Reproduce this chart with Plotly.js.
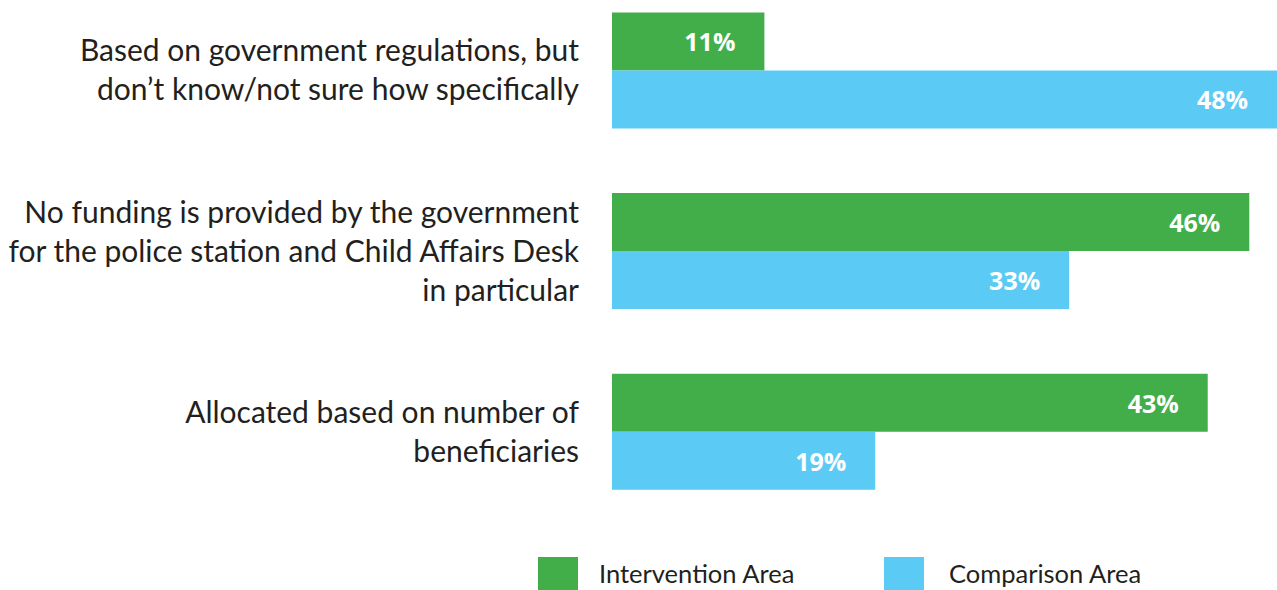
<!DOCTYPE html>
<html>
<head>
<meta charset="utf-8">
<script src="https://cdn.plot.ly/plotly-3.0.1.min.js"></script>
<style>
  html, body { margin: 0; padding: 0; background: #ffffff; }
  #chart { width: 1277px; height: 590px; }
</style>
</head>
<body>
<div id="chart"></div>
<script>
// ---- data ----
const categories = [
  "Based on government regulations, but<br>don’t know/not sure how specifically",
  "No funding is provided by the government<br>for the police station and Child Affairs Desk<br>in particular",
  "Allocated based on number of<br>beneficiaries"
];
const seriesNames = ["Intervention Area", "Comparison Area"];
const interventionValues = [11, 46, 43];
const comparisonValues = [48, 33, 19];
const seriesColors = ["#41ae4a", "#5bcbf5"];

// ---- layout constants ----
const W = 1277, H = 590;
const ML = 612, MR = 0, MT = 0, MB = 68;
const PW = W - ML - MR, PH = H - MT - MB;
const px2x = px => (px - ML) / PW;
const py2y = py => (MT + PH - py) / PH;

const PAD = '\u00a0\u00a0\u00a0\u00a0';
const textFont = { family: 'Open Sans', size: 25, color: '#ffffff', weight: 700 };

const traces = [
  {
    type: 'bar', orientation: 'h', name: seriesNames[0],
    y: categories, x: interventionValues,
    marker: { color: seriesColors[0] },
    texttemplate: '%{x}%' + PAD, textposition: 'inside', insidetextanchor: 'end',
    textangle: 0, textfont: textFont, constraintext: 'none',
    hoverinfo: 'skip', showlegend: false
  },
  {
    type: 'bar', orientation: 'h', name: seriesNames[1],
    y: categories, x: comparisonValues,
    marker: { color: seriesColors[1] },
    texttemplate: '%{x}%' + PAD, textposition: 'inside', insidetextanchor: 'end',
    textangle: 0, textfont: textFont, constraintext: 'none',
    hoverinfo: 'skip', showlegend: false
  }
];

const labelFont = { family: 'Lato', size: 30, color: '#231f20' };

// custom legend (large swatches)
const legendItems = [
  { name: seriesNames[0], color: seriesColors[0], sx: 538, tx: 597 },
  { name: seriesNames[1], color: seriesColors[1], sx: 884, tx: 947 }
];
const shapes = legendItems.map(it => ({
  type: 'rect', xref: 'paper', yref: 'paper',
  x0: px2x(it.sx), x1: px2x(it.sx + 40),
  y0: py2y(557), y1: py2y(590),
  fillcolor: it.color, line: { width: 0 }
}));
const annotations = legendItems.map(it => ({
  xref: 'paper', yref: 'paper', x: px2x(it.tx), y: py2y(573),
  xanchor: 'left', yanchor: 'middle', showarrow: false,
  text: it.name, font: { family: 'Lato', size: 25.5, color: '#231f20' }
}));

const layout = {
  width: W, height: H,
  margin: { l: ML, r: MR, t: MT, b: MB, pad: 0 },
  paper_bgcolor: '#ffffff', plot_bgcolor: '#ffffff',
  barmode: 'group', bargap: 0.358, bargroupgap: 0,
  showlegend: false,
  xaxis: { visible: false, range: [0, 48], fixedrange: true },
  yaxis: {
    type: 'category', range: [2.5, -0.39],
    showgrid: false, zeroline: false, showline: false, ticks: '',
    ticklabelstandoff: 32, tickfont: labelFont, automargin: false, fixedrange: true
  },
  shapes: shapes, annotations: annotations
};

Plotly.newPlot('chart', traces, layout, { displayModeBar: false, staticPlot: true });
</script>
</body>
</html>
